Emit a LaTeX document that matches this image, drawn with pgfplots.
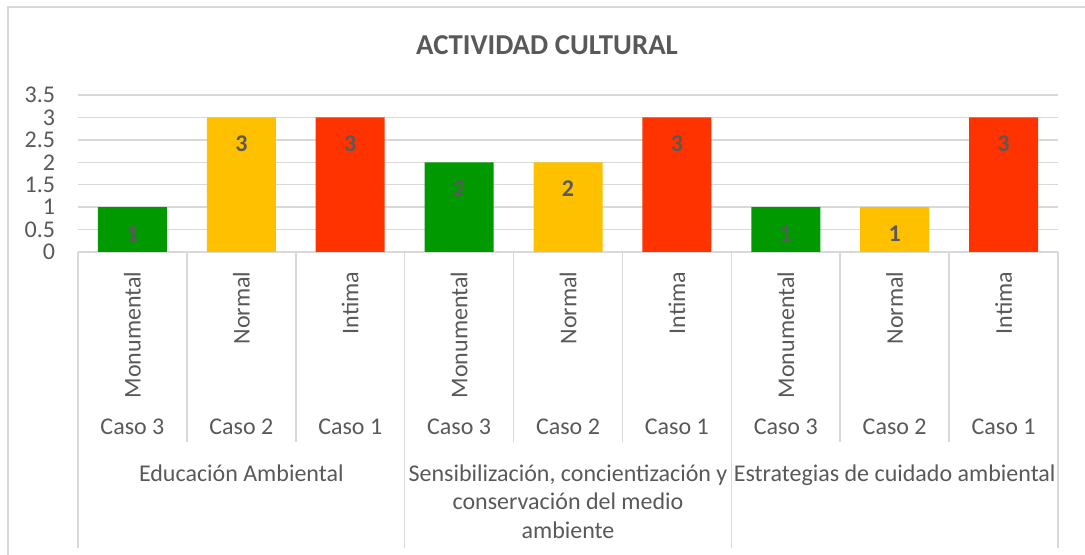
\documentclass[border=0pt]{standalone}
\usepackage{pgfplots}
\pgfplotsset{compat=1.18}
\usepackage{fontspec}
\setmainfont{Carlito}
\definecolor{txt}{HTML}{595959}
\definecolor{gridc}{HTML}{D9D9D9}
\definecolor{cgreen}{HTML}{009900}
\definecolor{cyellow}{HTML}{FFC000}
\definecolor{cred}{HTML}{FF3300}
\begin{document}
\begin{tikzpicture}
\useasboundingbox (-58.5pt,-227.25pt) rectangle (755.25pt,189pt);
\draw[gridc, line width=1.2pt] (-52.5pt,-240pt) -- (-52.5pt,183.75pt) -- (770pt,183.75pt);
\node[font=\bfseries\fontsize{21.6}{25}\selectfont, text=txt] at (351.75pt,155.25pt) {ACTIVIDAD CULTURAL};
\begin{axis}[
 at={(0,0)}, anchor=south west, scale only axis,
 width=735pt, height=117.75pt,
 xmin=-0.5, xmax=8.5, ymin=0, ymax=3.5,
 ytick={0,0.5,1,1.5,2,2.5,3,3.5},
 xtick=\empty,
 ymajorgrids, grid style={gridc, line width=1pt},
 axis line style={draw=none},
 major tick length=0pt,
 ybar, bar width=51.75pt,
 clip=false,
 yticklabel style={font=\fontsize{18}{20}\selectfont, text=txt, inner sep=0pt, anchor=east, xshift=-17pt},
 /pgf/number format/assume math mode=true,
 nodes near coords,
 every node near coord/.append style={font=\bfseries\fontsize{18}{20}\selectfont, text=txt, anchor=center, yshift=-20pt},
]
\addplot[fill=cgreen, draw=none, bar shift=0pt] coordinates {(0,1) (3,2) (6,1)};
\addplot[fill=cyellow, draw=none, bar shift=0pt] coordinates {(1,3) (4,2) (7,1)};
\addplot[fill=cred, draw=none, bar shift=0pt] coordinates {(2,3) (5,3) (8,3)};

% separators
\draw[gridc, line width=1.2pt] (axis cs:-0.5,0) -- ([yshift=-222pt]axis cs:-0.5,0);
\draw[gridc, line width=1.2pt] (axis cs:2.5,0) -- ([yshift=-222pt]axis cs:2.5,0);
\draw[gridc, line width=1.2pt] (axis cs:5.5,0) -- ([yshift=-222pt]axis cs:5.5,0);
\draw[gridc, line width=1.2pt] (axis cs:8.5,0) -- ([yshift=-222pt]axis cs:8.5,0);
\draw[gridc, line width=1.2pt] (axis cs:0.5,0) -- ([yshift=-142.5pt]axis cs:0.5,0);
\draw[gridc, line width=1.2pt] (axis cs:1.5,0) -- ([yshift=-142.5pt]axis cs:1.5,0);
\draw[gridc, line width=1.2pt] (axis cs:3.5,0) -- ([yshift=-142.5pt]axis cs:3.5,0);
\draw[gridc, line width=1.2pt] (axis cs:4.5,0) -- ([yshift=-142.5pt]axis cs:4.5,0);
\draw[gridc, line width=1.2pt] (axis cs:6.5,0) -- ([yshift=-142.5pt]axis cs:6.5,0);
\draw[gridc, line width=1.2pt] (axis cs:7.5,0) -- ([yshift=-142.5pt]axis cs:7.5,0);

% level 1 labels
\tikzset{lab/.style={font=\fontsize{18}{20}\selectfont, text=txt}}
\node[lab, rotate=90, anchor=east] at ([yshift=-11.25pt]axis cs:0,0) {Monumental};
\node[lab, rotate=90, anchor=east] at ([yshift=-11.25pt]axis cs:1,0) {Normal};
\node[lab, rotate=90, anchor=east] at ([yshift=-11.25pt]axis cs:2,0) {Intima};
\node[lab, rotate=90, anchor=east] at ([yshift=-11.25pt]axis cs:3,0) {Monumental};
\node[lab, rotate=90, anchor=east] at ([yshift=-11.25pt]axis cs:4,0) {Normal};
\node[lab, rotate=90, anchor=east] at ([yshift=-11.25pt]axis cs:5,0) {Intima};
\node[lab, rotate=90, anchor=east] at ([yshift=-11.25pt]axis cs:6,0) {Monumental};
\node[lab, rotate=90, anchor=east] at ([yshift=-11.25pt]axis cs:7,0) {Normal};
\node[lab, rotate=90, anchor=east] at ([yshift=-11.25pt]axis cs:8,0) {Intima};
% level 2 labels
\node[lab, anchor=base] at ([yshift=-137.25pt]axis cs:0,0) {Caso 3};
\node[lab, anchor=base] at ([yshift=-137.25pt]axis cs:1,0) {Caso 2};
\node[lab, anchor=base] at ([yshift=-137.25pt]axis cs:2,0) {Caso 1};
\node[lab, anchor=base] at ([yshift=-137.25pt]axis cs:3,0) {Caso 3};
\node[lab, anchor=base] at ([yshift=-137.25pt]axis cs:4,0) {Caso 2};
\node[lab, anchor=base] at ([yshift=-137.25pt]axis cs:5,0) {Caso 1};
\node[lab, anchor=base] at ([yshift=-137.25pt]axis cs:6,0) {Caso 3};
\node[lab, anchor=base] at ([yshift=-137.25pt]axis cs:7,0) {Caso 2};
\node[lab, anchor=base] at ([yshift=-137.25pt]axis cs:8,0) {Caso 1};
% level 3 labels
\node[lab, anchor=base] at ([yshift=-171.75pt]axis cs:1,0) {Educación Ambiental};
\node[lab, anchor=base] at ([yshift=-171.75pt]axis cs:4,0) {Sensibilización, concientización y};
\node[lab, anchor=base] at ([yshift=-193.25pt]axis cs:4,0) {conservación del medio};
\node[lab, anchor=base] at ([yshift=-214.75pt]axis cs:4,0) {ambiente};
\node[lab, anchor=base] at ([yshift=-171.75pt]axis cs:7,0) {Estrategias de cuidado ambiental};
\end{axis}
\end{tikzpicture}
\end{document}
